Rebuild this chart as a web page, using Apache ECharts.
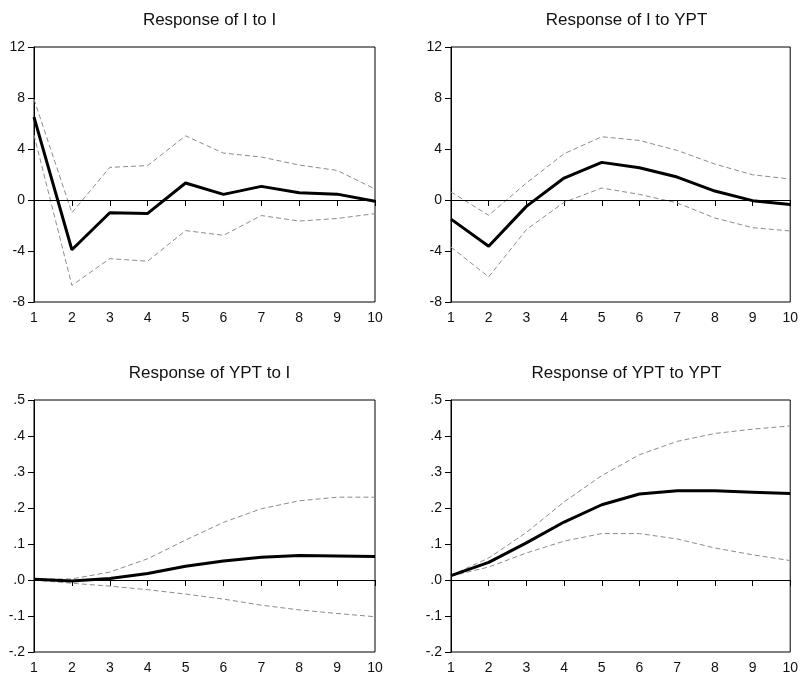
<!DOCTYPE html>
<html>
<head>
<meta charset="utf-8">
<title>Impulse responses</title>
<script src="https://cdn.jsdelivr.net/npm/echarts@6/dist/echarts.min.js"></script>
<style>
  html, body { margin: 0; padding: 0; background: #fff; }
  #chart { width: 801px; height: 675px; }
</style>
</head>
<body>
<div id="chart"></div>
<script>
// periods on the x axis
const periods = ['1', '2', '3', '4', '5', '6', '7', '8', '9', '10'];

// Response of I to I
const iToIMid = [6.5, -3.9, -1.0, -1.05, 1.33, 0.44, 1.07, 0.57, 0.46, -0.1];
const iToIHigh = [7.9, -1.0, 2.56, 2.7, 5.03, 3.68, 3.37, 2.74, 2.32, 0.86];
const iToILow = [5.1, -6.7, -4.6, -4.8, -2.4, -2.77, -1.22, -1.65, -1.45, -1.07];

// Response of I to YPT
const iToYptMid = [-1.5, -3.63, -0.5, 1.72, 2.95, 2.53, 1.8, 0.7, -0.05, -0.36];
const iToYptHigh = [0.63, -1.2, 1.33, 3.63, 4.96, 4.67, 3.89, 2.82, 1.98, 1.64];
const iToYptLow = [-3.7, -6.03, -2.32, -0.18, 0.94, 0.44, -0.23, -1.41, -2.17, -2.43];

// Response of YPT to I
const yptToIMid = [0.002, -0.003, 0.004, 0.018, 0.038, 0.053, 0.063, 0.068, 0.067, 0.065];
const yptToIHigh = [0.002, 0.003, 0.022, 0.059, 0.111, 0.16, 0.198, 0.22, 0.23, 0.23];
const yptToILow = [0.0, -0.009, -0.017, -0.027, -0.039, -0.053, -0.07, -0.083, -0.093, -0.102];

// Response of YPT to YPT
const yptToYptMid = [0.012, 0.049, 0.103, 0.161, 0.209, 0.239, 0.248, 0.248, 0.244, 0.24];
const yptToYptHigh = [0.013, 0.061, 0.132, 0.217, 0.29, 0.348, 0.385, 0.407, 0.419, 0.428];
const yptToYptLow = [0.011, 0.036, 0.075, 0.108, 0.129, 0.129, 0.114, 0.089, 0.07, 0.054];

const titles = ['Response of I to I', 'Response of I to YPT', 'Response of YPT to I', 'Response of YPT to YPT'];

const font = 'Liberation Sans, Arial, sans-serif';

// panel boxes in px (left, top)
const panels = [
  { left: 34, top: 47, mid: iToIMid, high: iToIHigh, low: iToILow, min: -8, max: 12, step: 4 },
  { left: 451, top: 47, mid: iToYptMid, high: iToYptHigh, low: iToYptLow, min: -8, max: 12, step: 4 },
  { left: 34, top: 400, mid: yptToIMid, high: yptToIHigh, low: yptToILow, min: -0.2, max: 0.5, step: 0.1 },
  { left: 451, top: 400, mid: yptToYptMid, high: yptToYptHigh, low: yptToYptLow, min: -0.2, max: 0.5, step: 0.1 }
];
const plotW = 341;
const plotH = 255;

// ".5", ".0", "-.1" like the original
function fmtSmall(v) {
  return v.toFixed(1).replace('0.', '.');
}

const grid = [], xAxis = [], yAxis = [], series = [], title = [];

panels.forEach((p, i) => {
  grid.push({
    left: p.left, top: p.top, width: plotW, height: plotH,
    show: true, borderColor: '#000', borderWidth: 1, backgroundColor: '#fff'
  });
  title.push({
    text: titles[i],
    left: p.left + plotW / 2,
    top: p.top - 40,
    textAlign: 'center',
    textStyle: { fontFamily: font, fontSize: 17, fontWeight: 'normal', color: '#111' }
  });
  xAxis.push({
    type: 'category', gridIndex: i, data: periods, boundaryGap: false,
    axisLine: { lineStyle: { color: '#000', width: 1 } },
    axisTick: { length: 6, lineStyle: { color: '#000' } },
    axisLabel: { interval: 0, margin: 9, fontFamily: font, fontSize: 14, color: '#111' },
    splitLine: { show: false }
  });
  yAxis.push({
    type: 'value', gridIndex: i, min: p.min, max: p.max, interval: p.step,
    axisLine: { show: true, lineStyle: { color: '#000', width: 1 } },
    axisTick: { show: true, length: 6, lineStyle: { color: '#000' } },
    axisLabel: {
      margin: 9, fontFamily: font, fontSize: 14, color: '#111',
      formatter: p.step < 1 ? fmtSmall : null
    },
    splitLine: { show: false }
  });
  const band = { type: [5, 3], width: 1, color: '#8c8c8c' };
  series.push({
    type: 'line', xAxisIndex: i, yAxisIndex: i, data: p.high, symbol: 'none',
    lineStyle: band, silent: true, z: 2
  });
  series.push({
    type: 'line', xAxisIndex: i, yAxisIndex: i, data: p.low, symbol: 'none',
    lineStyle: band, silent: true, z: 2
  });
  series.push({
    type: 'line', xAxisIndex: i, yAxisIndex: i, data: p.mid, symbol: 'none',
    lineStyle: { color: '#000', width: 3 }, silent: true, z: 3,
    markLine: {
      silent: true, symbol: 'none', label: { show: false },
      lineStyle: { color: '#000', width: 1, type: 'solid' },
      data: [{ yAxis: 0 }]
    }
  });
});

const chart = echarts.init(document.getElementById('chart'), null, { renderer: 'canvas' });
chart.setOption({
  animation: false,
  backgroundColor: '#fff',
  title: title,
  grid: grid,
  xAxis: xAxis,
  yAxis: yAxis,
  series: series
});
</script>
</body>
</html>
